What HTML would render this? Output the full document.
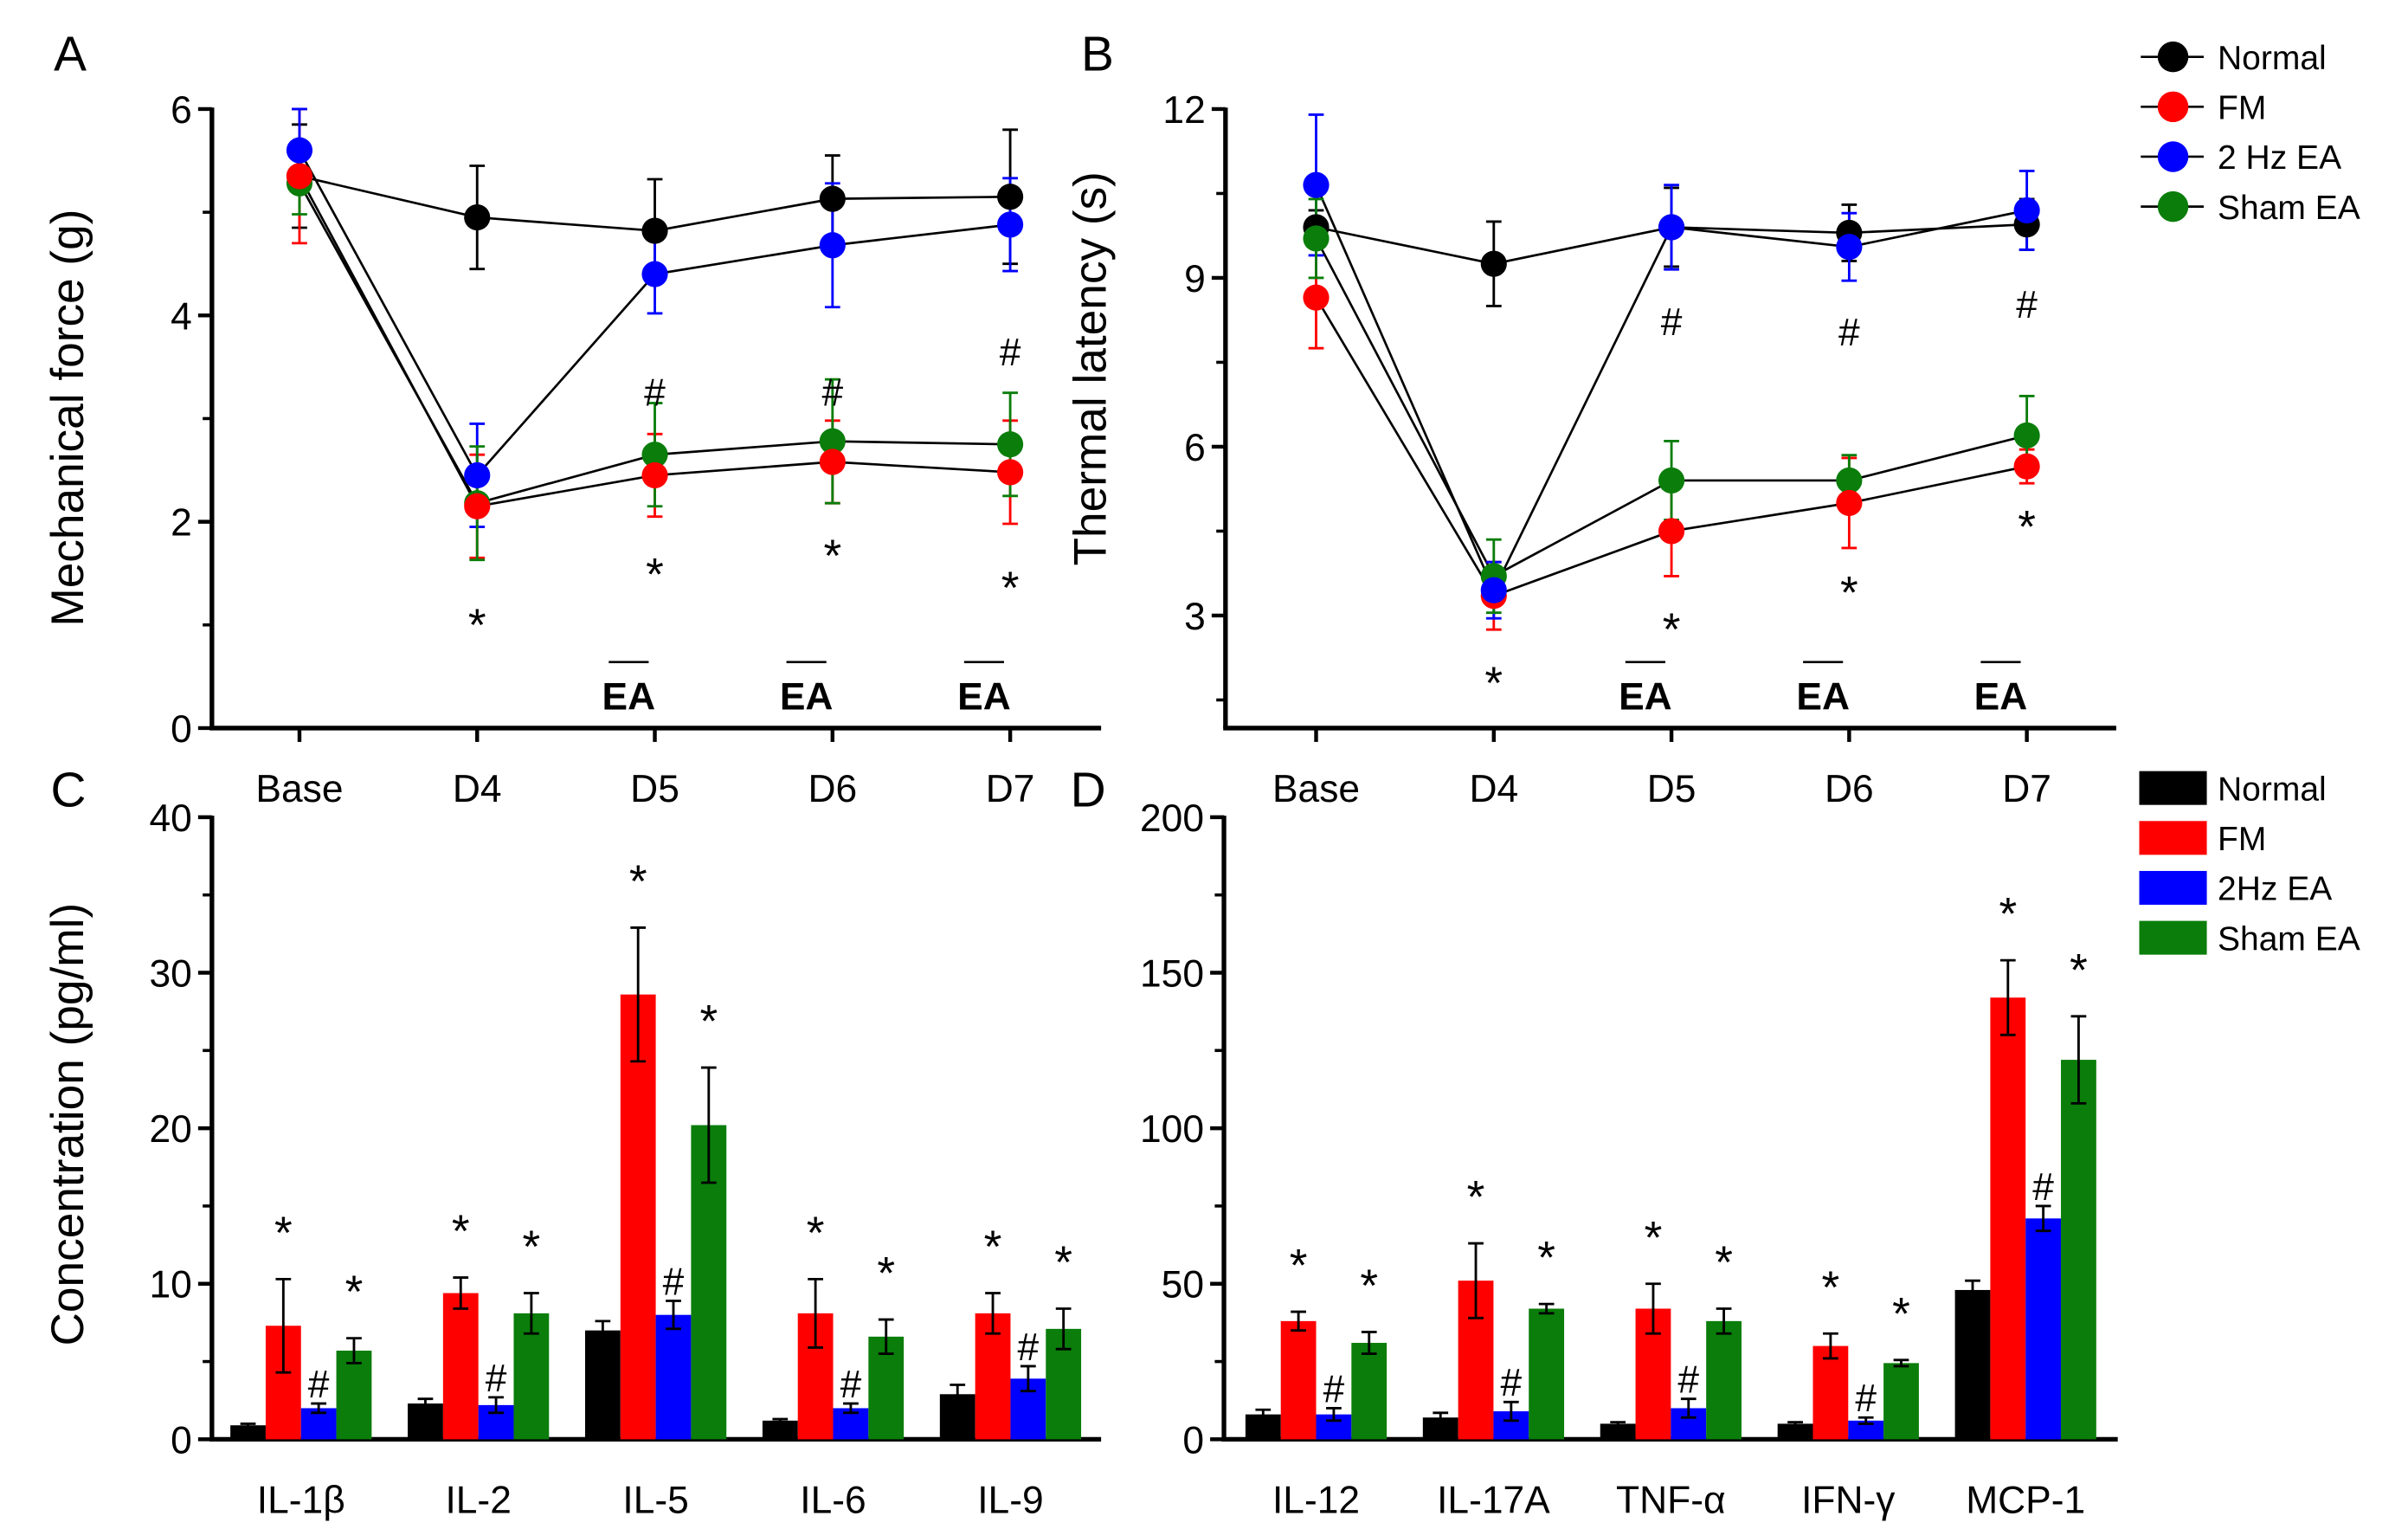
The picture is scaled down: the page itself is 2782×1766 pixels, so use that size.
<!DOCTYPE html>
<html><head><meta charset="utf-8"><style>
html,body{margin:0;padding:0;background:#fff;}
svg{display:block;font-family:"Liberation Sans",Arial,sans-serif;}
</style></head><body>
<svg id="fig" width="2782" height="1766" viewBox="0 0 1568 995.4" preserveAspectRatio="none" xmlns="http://www.w3.org/2000/svg">
<text x="35" y="46" font-size="32">A</text>
<text x="704" y="46" font-size="32">B</text>
<text x="33" y="525" font-size="32">C</text>
<text x="697" y="525" font-size="32">D</text>
<text transform="translate(54,272) rotate(-90)" text-anchor="middle" font-size="30">Mechanical force (g)</text>
<text transform="translate(720,240) rotate(-90)" text-anchor="middle" font-size="30">Thermal latency (s)</text>
<text transform="translate(54,732) rotate(-90)" text-anchor="middle" font-size="30">Concentration (pg/ml)</text>
<g id="g"></g>
</svg>
<script>
// Panel A data (mechanical force)
const timeCats = ["Base","D4","D5","D6","D7"];
const aNormal = [5.35,4.95,4.82,5.13,5.15];
const aNormalErr = [0.5,0.5,0.5,0.42,0.65];
const aFM = [5.35,2.15,2.45,2.58,2.48];
const aFMErr = [0.65,0.5,0.4,0.4,0.5];
const aEA = [5.6,2.45,4.4,4.68,4.88];
const aEAErr = [0.4,0.5,0.38,0.6,0.45];
const aSham = [5.28,2.18,2.65,2.78,2.75];
const aShamErr = [0.3,0.55,0.5,0.6,0.5];
const aTicks = [0,2,4,6];
// Panel B data (thermal latency)
const bNormal = [9.9,9.25,9.9,9.8,9.95];
const bNormalErr = [0.3,0.75,0.7,0.5,0.45];
const bFM = [8.65,3.35,4.5,5.0,5.65];
const bFMErr = [0.9,0.6,0.8,0.8,0.3];
const bEA = [10.65,3.45,9.9,9.55,10.2];
const bEAErr = [1.25,0.5,0.75,0.6,0.7];
const bSham = [9.7,3.7,5.4,5.4,6.2];
const bShamErr = [0.7,0.65,0.7,0.45,0.7];
const bTicks = [3,6,9,12];
// Panel C data
const cCats = ["IL-1β","IL-2","IL-5","IL-6","IL-9"];
const cNormal = [0.9,2.3,7.0,1.2,2.9];
const cNormalErr = [0.1,0.3,0.6,0.1,0.6];
const cFM = [7.3,9.4,28.6,8.1,8.1];
const cFMErr = [3.0,1.0,4.3,2.2,1.3];
const cEA = [2.0,2.2,8.0,2.0,3.9];
const cEAErr = [0.3,0.5,0.9,0.3,0.8];
const cSham = [5.7,8.1,20.2,6.6,7.1];
const cShamErr = [0.8,1.3,3.7,1.1,1.3];
const cTicks = [0,10,20,30,40];
// Panel D data
const dCats = ["IL-12","IL-17A","TNF-α","IFN-γ","MCP-1"];
const dNormal = [8,7,5,5,48];
const dNormalErr = [1.5,1.5,0.5,0.5,3];
const dFM = [38,51,42,30,142];
const dFMErr = [3,12,8,4,12];
const dEA = [8,9,10,6,71];
const dEAErr = [2,3,3,1,4];
const dSham = [31,42,38,24.5,122];
const dShamErr = [3.5,1.5,4,1,14];
const dTicks = [0,50,100,150,200];

const NS="http://www.w3.org/2000/svg";
const G=document.getElementById('g');
const COLORS=["#000000","#ff0000","#0000ff","#0a7d0a"];
const NAMES=["normal","fm","2hz-ea","sham-ea"];
function mk(tag,attrs,parent){const e=document.createElementNS(NS,tag);for(const k in attrs)e.setAttribute(k,attrs[k]);(parent||G).appendChild(e);return e;}
function txt(x,y,s,size,anchor,extra){const e=mk('text',Object.assign({x:x,y:y,'font-size':size,'text-anchor':anchor||'middle'},extra||{}));e.textContent=s;return e;}

function axes(p){
  const sy=v=>p.y0-(v-p.vmin)/(p.vmax-p.vmin)*(p.y0-p.yTop);
  const ya=mk('line',{x1:p.x0,y1:p.y0,x2:p.x0,y2:p.yTop-1,stroke:'#000','stroke-width':3});
  
  
  const xa=mk('line',{x1:p.x0-1.5,y1:p.y0,x2:p.x1,y2:p.y0,stroke:'#000','stroke-width':3});
  
  
  p.ticks.forEach(t=>{
    const y=sy(t);
    const tl=mk('line',{x1:p.x0-9,y1:y,x2:p.x0,y2:y,stroke:'#000','stroke-width':2.5});
    
    
    const lb=txt(p.x0-13,y+9,String(t),25,'end');
    
    
  });
  p.minor.forEach(t=>{
    const y=sy(t);
    const ml=mk('line',{x1:p.x0-6,y1:y,x2:p.x0,y2:y,stroke:'#000','stroke-width':2});
    
    
  });
  p.cats.forEach((c,i)=>{
    const x=p.cx(i);
    if(p.xticks){
      const xt=mk('line',{x1:x,y1:p.y0,x2:x,y2:p.y0+9,stroke:'#000','stroke-width':2.5});
      
      
    }
    const xl=txt(x,p.y0+48,c,25);
    
    
  });
  return sy;
}

function errbar(x,yv,ye,color,cap){
  const e=mk('path',{d:`M${x},${yv-ye.up}V${yv+ye.dn}M${x-cap},${yv-ye.up}h${2*cap}M${x-cap},${yv+ye.dn}h${2*cap}`,stroke:color,'stroke-width':1.6,fill:'none'});
  
  
}

function linePanel(id,series,errs,p,stars,hashes){
  const sy=axes(p);
  series.forEach((s,k)=>{
    const d=s.map((v,i)=>(i?'L':'M')+p.cx(i)+','+sy(v)).join('');
    const pl=mk('path',{d:d,stroke:'#000','stroke-width':1.5,fill:'none'});
    
    
  });
  series.forEach((s,k)=>{
    s.forEach((v,i)=>{
      const x=p.cx(i),y=sy(v),h=sy(v-errs[k][i])-y;
      errbar(x,y,{up:h,dn:h},COLORS[k],5);
    });
  });
  [0,3,1,2].forEach(k=>{
    series[k].forEach((v,i)=>{
      const c=mk('circle',{cx:p.cx(i),cy:sy(v),r:8.5,fill:COLORS[k]});
      
      
    });
  });
  stars.forEach(s=>{const t=txt(p.cx(s[0]),s[1]+4,'*',30);});
  hashes.forEach(s=>{const t=txt(p.cx(s[0]),s[1],'#',25);});
  [2,3,4].forEach(i=>{
    const x=p.cx(i)-17;
    const ol=mk('line',{x1:x-13,y1:431,x2:x+13,y2:431,stroke:'#000','stroke-width':1.5});
    
    
    const ea=txt(x,462,'EA',25,'middle',{'font-weight':'bold'});
    
    
  });
}

function barPanel(id,series,errs,p,stars,hashes){
  const sy=axes(p);
  const bw=23;
  series.forEach((s,k)=>{
    s.forEach((v,i)=>{
      const x=p.cx(i)+(k-2)*bw;
      const r=mk('rect',{x:x,y:sy(v),width:bw,height:p.y0-sy(v),fill:COLORS[k]});
      
      
      const h=sy(v-errs[k][i])-sy(v);
      errbar(x+bw/2,sy(v),{up:h,dn:h},'#000',5);
    });
  });
  stars.forEach(s=>{
    const k=s[1],i=s[0];
    const t=txt(p.cx(i)+(k-2)*bw+bw/2,sy(series[k][i]+errs[k][i])-s[2]+4,'*',30);
    
    
  });
  hashes.forEach(i=>{
    const t=txt(p.cx(i)+bw/2,sy(series[2][i]+errs[2][i])-4,'#',25);
    
    
  });
}

linePanel('a',[aNormal,aFM,aEA,aSham],[aNormalErr,aFMErr,aEAErr,aShamErr],
 {id:'a',x0:138,x1:717,y0:474,yTop:71,vmin:0,vmax:6,ticks:aTicks,minor:[1,3,5],cx:i=>195+115.7*i,cats:timeCats,xticks:true},
 [[1,413],[2,380],[3,368],[4,389]],[[2,264],[3,264],[4,238]]);
linePanel('b',[bNormal,bFM,bEA,bSham],[bNormalErr,bFMErr,bEAErr,bShamErr],
 {id:'b',x0:798,x1:1378,y0:474,yTop:71,vmin:1,vmax:12,ticks:bTicks,minor:[1.5,4.5,7.5,10.5],cx:i=>857+115.7*i,cats:timeCats,xticks:true},
 [[1,451],[2,416],[3,392],[4,349]],[[2,218],[3,225],[4,207]]);
barPanel('c',[cNormal,cFM,cEA,cSham],[cNormalErr,cFMErr,cEAErr,cShamErr],
 {id:'c',x0:138,x1:717,y0:937,yTop:532,vmin:0,vmax:40,ticks:cTicks,minor:[5,15,25,35],cx:i=>196+115.5*i,cats:cCats,xticks:false},
 [[0,1,24],[0,3,24],[1,1,24],[1,3,24],[2,1,24],[2,3,24],[3,1,24],[3,3,24],[4,1,24],[4,3,24]],[0,1,2,3,4]);
barPanel('d',[dNormal,dFM,dEA,dSham],[dNormalErr,dFMErr,dEAErr,dShamErr],
 {id:'d',x0:797,x1:1379,y0:937,yTop:532,vmin:0,vmax:200,ticks:dTicks,minor:[25,75,125,175],cx:i=>857+115.5*i,cats:dCats,xticks:false},
 [[0,1,24],[0,3,24],[1,1,24],[1,3,24],[2,1,24],[2,3,24],[3,1,24],[3,3,24],[4,1,24],[4,3,24]],[0,1,2,3,4]);

const legendLabels1=["Normal","FM","2 Hz EA","Sham EA"];
const legendLabels2=["Normal","FM","2Hz EA","Sham EA"];
legendLabels1.forEach((s,k)=>{
  const y=37+32.5*k;
  const gl=mk('g',{});
  
  
  mk('line',{x1:1394,y1:y,x2:1435,y2:y,stroke:'#000','stroke-width':1.5},gl);
  mk('circle',{cx:1415,cy:y,r:10,fill:COLORS[k]},gl);
  const t=mk('text',{x:1444,y:y+8,'font-size':22},gl);t.textContent=s;
});
legendLabels2.forEach((s,k)=>{
  const y=513+32.5*k;
  const gl=mk('g',{});
  
  
  mk('rect',{x:1393,y:y-11,width:44,height:22,fill:COLORS[k]},gl);
  const t=mk('text',{x:1444,y:y+8,'font-size':22},gl);t.textContent=s;
});
</script>
</body></html>
